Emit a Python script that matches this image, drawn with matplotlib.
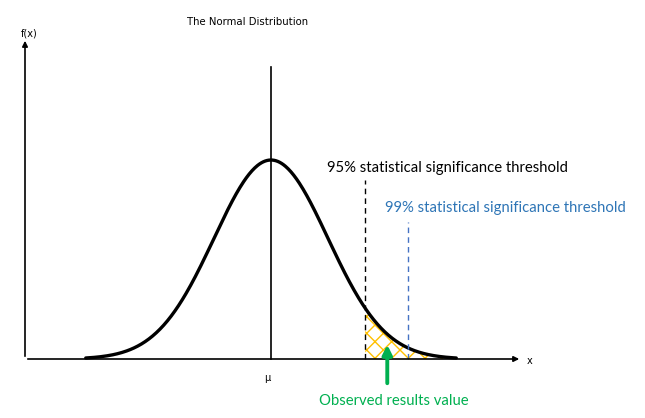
import matplotlib.pyplot as plt
import numpy as np

# positions in standard deviations from the mean
z_95 = 1.65
z_99 = 2.40
z_observed = 2.04
curve_limit = 3.25

title = "The Normal Distribution"
label_95 = "95% statistical significance threshold"
label_99 = "99% statistical significance threshold"
label_obs = "Observed results value"

px = 57.0      # pixels per sigma
py = 498.8     # pixels per unit density
x0, y0 = 271, 359

plt.rcParams['hatch.linewidth'] = 1.0

fig = plt.figure(figsize=(6.45, 4.18), dpi=100)
ax = fig.add_axes([0, 0, 1, 1])
ax.set_xlim(-x0 / px, (645 - x0) / px)
ax.set_ylim(-(418 - y0) / py, y0 / py)
ax.axis('off')

z = np.linspace(-curve_limit, curve_limit, 400)
pdf = np.exp(-z ** 2 / 2) / np.sqrt(2 * np.pi)

# hatched tail
zt = z[z >= z_95]
ax.fill_between(zt, 0, np.exp(-zt ** 2 / 2) / np.sqrt(2 * np.pi),
                facecolor='none', edgecolor='#FFC000', hatch='xx', linewidth=0)

ax.plot(z, pdf, color='black', lw=2.4, solid_capstyle='round')

# axes
left = (25 - x0) / px
right = (522 - x0) / px
ax.annotate('', xy=(right, 0), xytext=(left, 0),
            arrowprops=dict(arrowstyle='-|>', color='black', lw=1.2, mutation_scale=8))
ax.annotate('', xy=(left, (y0 - 38) / py), xytext=(left, 0),
            arrowprops=dict(arrowstyle='-|>', color='black', lw=1.2, mutation_scale=8))
ax.plot([0, 0], [0, (y0 - 67) / py], color='black', lw=1.2)

# thresholds
ax.plot([z_95, z_95], [0, (y0 - 180) / py], color='black', lw=1, ls=(0, (4, 3)))
ax.plot([z_99, z_99], [0, (y0 - 222) / py], color='#4472C4', lw=1, ls=(0, (4, 3)))

ax.text((327 - x0) / px, (y0 - 168) / py, label_95, fontsize=10.7, family='Lato',
        color='black', va='center')
ax.text((385 - x0) / px, (y0 - 208) / py, label_99, fontsize=10.7, family='Lato',
        color='#2E75B6', va='center')

# observed value
ax.annotate('', xy=(z_observed, (y0 - 342) / py), xytext=(z_observed, (y0 - 386) / py),
            arrowprops=dict(arrowstyle='-|>', color='#00B050', lw=2.8, mutation_scale=14))
ax.text((394 - x0) / px, (y0 - 401) / py, label_obs, fontsize=10.7, family='Lato',
        color='#00B050', ha='center', va='center')

ax.text((248 - x0) / px, (y0 - 22) / py, title, fontsize=7.3, ha='center', va='center')
ax.text((29 - x0) / px, (y0 - 34) / py, "f(x)", fontsize=7, ha='center', va='center')
ax.text((530 - x0) / px, (y0 - 361) / py, "x", fontsize=7, ha='center', va='center')
ax.text(-4 / px, (y0 - 378) / py, "μ", fontsize=7, ha='center', va='center')

fig.savefig('out.png', dpi=100)
